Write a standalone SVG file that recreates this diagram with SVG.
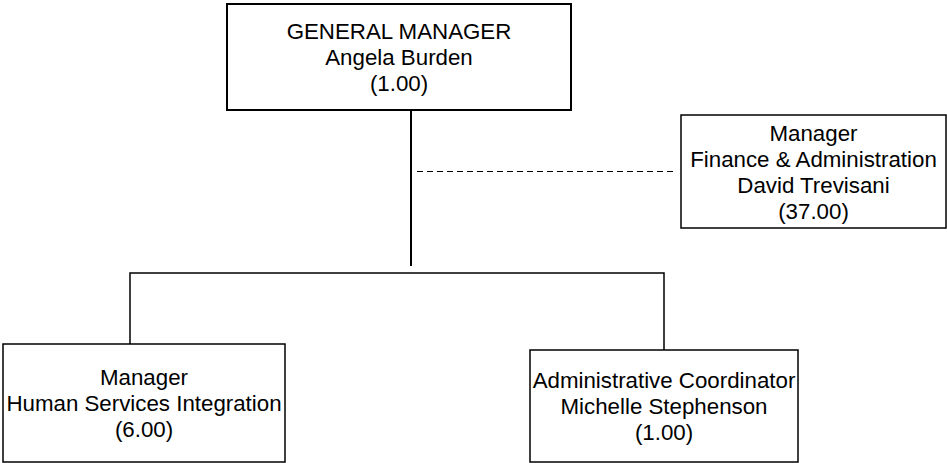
<svg xmlns="http://www.w3.org/2000/svg" width="947" height="463" viewBox="0 0 947 463">
<style>
.box{fill:#fff;stroke:#000;stroke-width:1.5}
.top{stroke-width:2}
.t{font-family:"Liberation Sans",Arial,sans-serif;font-size:22.3px;fill:#000;text-anchor:middle}
.c{stroke:#000;fill:none;stroke-width:1.5}
</style>
<rect width="947" height="463" fill="#fff"/>
<g id="connectors">
<line class="c" x1="411" y1="110" x2="411" y2="266" style="stroke-width:2"/>
<polyline class="c" points="130,344 130,273 664,273 664,350"/>
<line class="c" x1="417" y1="171.5" x2="675" y2="171.5" style="stroke-width:1" stroke-dasharray="6,4"/>
</g>
<g id="gm">
<rect class="box top" x="227" y="4" width="344" height="106"/>
<text class="t" x="399" y="39">GENERAL MANAGER</text>
<text class="t" x="399" y="65">Angela Burden</text>
<text class="t" x="399" y="91">(1.00)</text>
</g>
<g id="finance">
<rect class="box" x="681" y="115" width="265" height="113"/>
<text class="t" x="813.5" y="140.5">Manager</text>
<text class="t" x="813.5" y="166.5">Finance &amp; Administration</text>
<text class="t" x="813.5" y="192.5">David Trevisani</text>
<text class="t" x="813.5" y="218.5">(37.00)</text>
</g>
<g id="hsi">
<rect class="box" x="3" y="344" width="282" height="118"/>
<text class="t" x="144" y="385">Manager</text>
<text class="t" x="144" y="411">Human Services Integration</text>
<text class="t" x="144" y="437">(6.00)</text>
</g>
<g id="admin">
<rect class="box" x="530" y="350" width="268" height="112"/>
<text class="t" x="664" y="388">Administrative Coordinator</text>
<text class="t" x="664" y="414">Michelle Stephenson</text>
<text class="t" x="664" y="440">(1.00)</text>
</g>
</svg>
